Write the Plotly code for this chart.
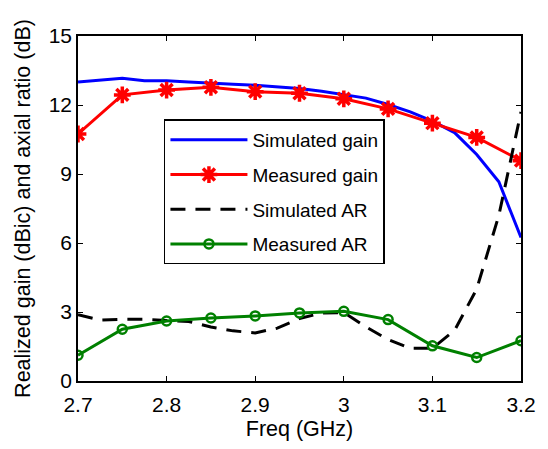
import plotly.graph_objects as go

# ---- data ----
freq_meas = [2.70, 2.75, 2.80, 2.85, 2.90, 2.95, 3.00, 3.05, 3.10, 3.15, 3.20]
meas_gain = [10.74, 12.44, 12.65, 12.77, 12.58, 12.51, 12.27, 11.83, 11.21, 10.59, 9.58]
meas_ar = [1.12, 2.25, 2.61, 2.74, 2.83, 2.96, 3.03, 2.67, 1.53, 1.02, 1.75]

freq_sim = [2.700, 2.725, 2.750, 2.775, 2.800, 2.825, 2.850, 2.875, 2.900, 2.925, 2.950,
            2.975, 3.000, 3.025, 3.050, 3.075, 3.100, 3.125, 3.150, 3.175, 3.200]
sim_gain = [13.00, 13.08, 13.16, 13.05, 13.05, 13.00, 12.94, 12.90, 12.86, 12.80, 12.72,
            12.60, 12.45, 12.30, 12.02, 11.70, 11.30, 10.80, 9.85, 8.66, 6.24]
sim_ar = [2.88, 2.65, 2.68, 2.68, 2.63, 2.59, 2.35, 2.18, 2.09, 2.30, 2.72,
          2.95, 2.98, 2.35, 1.80, 1.42, 1.42, 2.20, 4.00, 7.20, 11.70]

x_ticks = [2.7, 2.8, 2.9, 3.0, 3.1, 3.2]
x_ticktext = ["2.7", "2.8", "2.9", "3", "3.1", "3.2"]
y_ticks = [0, 3, 6, 9, 12, 15]
y_ticktext = ["0", "3", "6", "9", "12", "15"]

FONT = "Liberation Sans, Arial, sans-serif"

fig = go.Figure()
fig.add_trace(go.Scatter(x=freq_sim, y=sim_gain, mode="lines", name="Simulated gain",
                         line=dict(color="rgb(0,0,255)", width=3), legendgroup="a"))
fig.add_trace(go.Scatter(x=freq_meas, y=meas_gain, mode="lines+markers", name="Measured gain",
                         line=dict(color="rgb(255,0,0)", width=3),
                         marker=dict(symbol="asterisk-open", size=14,
                                     line=dict(color="rgb(255,0,0)", width=3.5)),
                         legendgroup="b"))
fig.add_trace(go.Scatter(x=freq_sim, y=sim_ar, mode="lines", name="Simulated AR",
                         line=dict(color="black", width=3, dash="15px,10px"), legendgroup="c"))
fig.add_trace(go.Scatter(x=freq_meas, y=meas_ar, mode="lines+markers", name="Measured AR",
                         line=dict(color="rgb(0,128,0)", width=3),
                         marker=dict(symbol="circle-open", size=9,
                                     line=dict(color="rgb(0,128,0)", width=2.5)),
                         legendgroup="d"))

axis_common = dict(showgrid=False, zeroline=False, showline=True, linecolor="black",
                   linewidth=1.5, ticks="inside", ticklen=5, tickwidth=1, tickcolor="black",
                   mirror="allticks", tickfont=dict(family=FONT, size=21, color="black"))

fig.update_xaxes(range=[2.7, 3.2], tickvals=x_ticks, ticktext=x_ticktext,
                 ticklabelstandoff=4,
                 title=dict(text="Freq (GHz)", font=dict(family=FONT, size=21.5, color="black"),
                            standoff=6),
                 **axis_common)
fig.update_yaxes(range=[0, 15], tickvals=y_ticks, ticktext=y_ticktext,
                 title=dict(text="Realized gain (dBic) and axial ratio (dB)",
                            font=dict(family=FONT, size=21.5, color="black"), standoff=12),
                 **axis_common)

fig.update_layout(
    width=548, height=449,
    margin=dict(l=78, r=17, t=36, b=66),
    paper_bgcolor="white", plot_bgcolor="white",
    font=dict(family=FONT, color="black"),
    legend=dict(x=0.194, y=0.758, xanchor="left", yanchor="top",
                bordercolor="black", borderwidth=1.5, bgcolor="white",
                font=dict(family=FONT, size=19, color="black"),
                itemwidth=77,
                traceorder="grouped", tracegroupgap=7),
)

fig.write_html("out.html")
